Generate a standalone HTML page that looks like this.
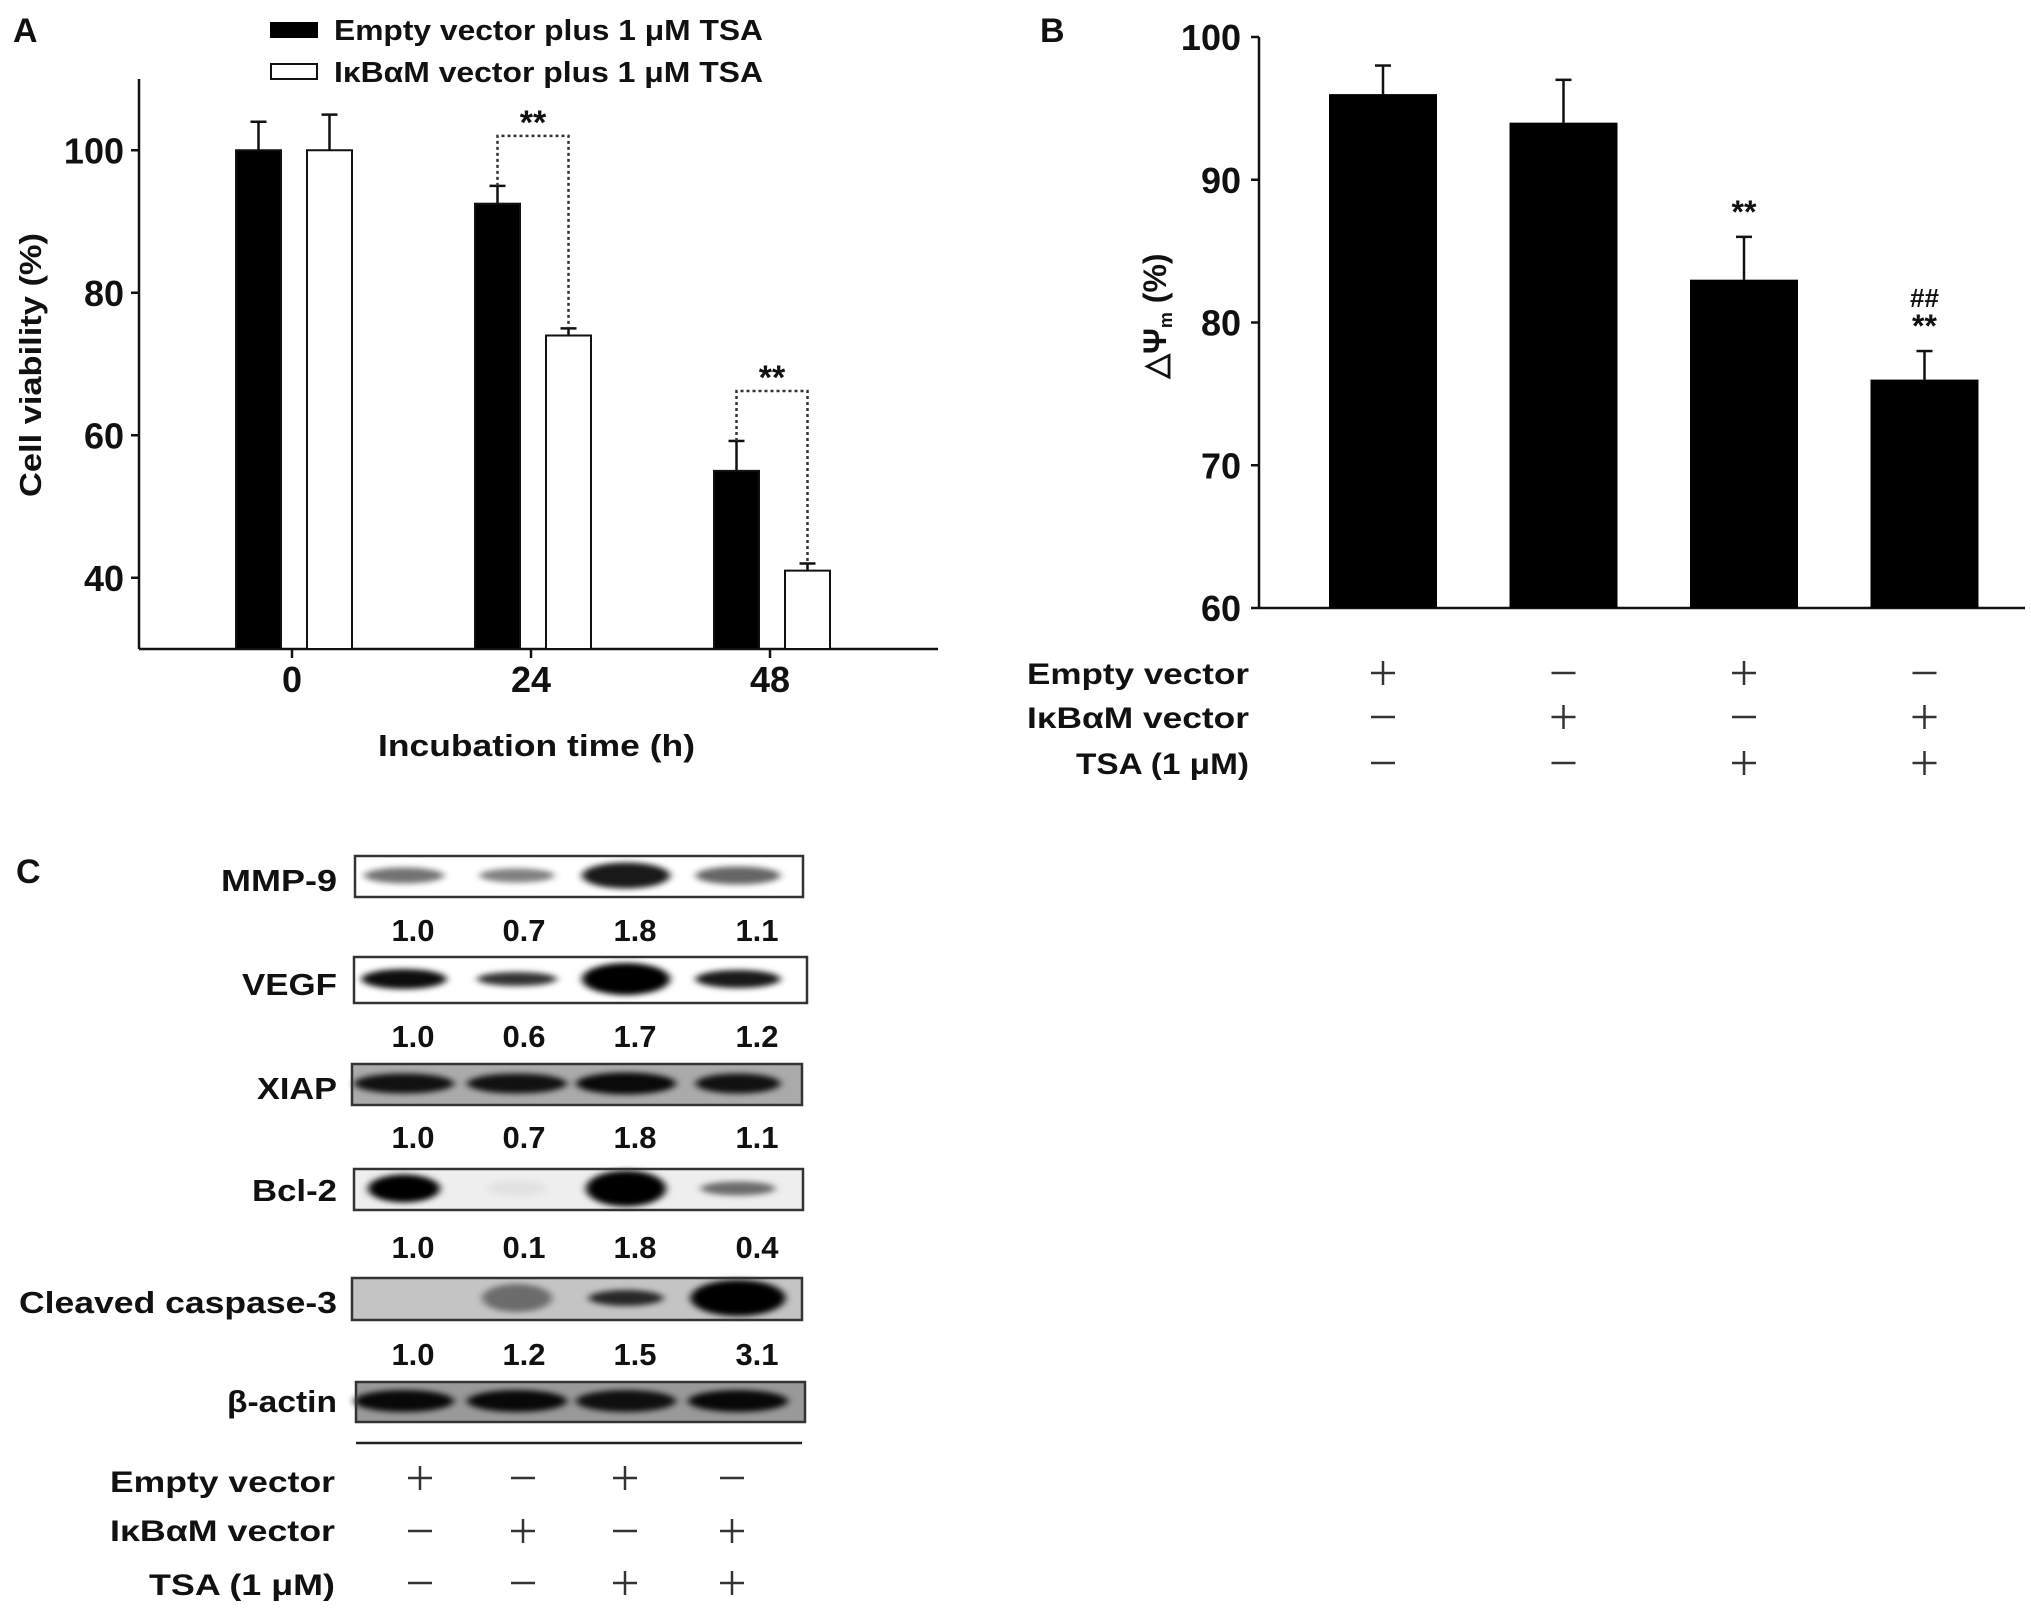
<!DOCTYPE html>
<html><head><meta charset="utf-8"><style>
html,body{margin:0;padding:0;background:#fff;}
svg{display:block;}
text{font-family:"Liberation Sans",sans-serif;font-weight:bold;fill:#111;}
</style></head><body>
<svg id="fig" width="2031" height="1613" viewBox="0 0 2031 1613" xmlns="http://www.w3.org/2000/svg">
<defs>
<filter id="blur" x="-30%" y="-100%" width="160%" height="300%"><feGaussianBlur stdDeviation="4 3"/></filter>
</defs>
<text x="13" y="42" font-size="34">A</text>
<text x="1040" y="42" font-size="34">B</text>
<text x="16" y="883" font-size="34">C</text>
<g id="chartA"></g>
<g id="chartB"></g>
<g id="blots"></g>
</svg>
<script>
const NS='http://www.w3.org/2000/svg';
function mk(tag,attrs,parent){const e=document.createElementNS(NS,tag);for(const k in attrs)e.setAttribute(k,attrs[k]);parent.appendChild(e);return e;}

// ---------- Panel A data ----------
const aCategories=['0','24','48'];
const aEmpty=[100,92.5,55];
const aEmptyErr=[4,2.5,4.2];
const aIkb=[100,74,41];
const aIkbErr=[5,1,1];
const aTicks=[40,60,80,100];

// ---------- Panel B data ----------
const bValues=[96,94,83,76];
const bErr=[2,3,3,2];
const bTicks=[60,70,80,90,100];
const bEmpty=['+','-','+','-'];
const bIkb=['-','+','-','+'];
const bTsa=['-','-','+','+'];

// ---------- Panel C data ----------
const cProteins=['MMP-9','VEGF','XIAP','Bcl-2','Cleaved caspase-3','β-actin'];
const cRatios=[['1.0','0.7','1.8','1.1'],['1.0','0.6','1.7','1.2'],['1.0','0.7','1.8','1.1'],['1.0','0.1','1.8','0.4'],['1.0','1.2','1.5','3.1'],null];
const cEmpty=['+','-','+','-'];
const cIkb=['-','+','-','+'];
const cTsa=['-','-','+','+'];

// ===== Panel A =====
(function(){
const g=document.getElementById('chartA');
const x0=139,x1=938,yTop=79,yBot=649,vmin=30,vmax=110;
const y=v=>yBot-(v-vmin)/(vmax-vmin)*(yBot-yTop);
const gx=i=>292+i*239;
const bw=45;
let e;
e=mk('line',{x1:x0,y1:yTop,x2:x0,y2:yBot,stroke:'#111','stroke-width':2.5},g);

e=mk('line',{x1:x0,y1:yBot,x2:x1,y2:yBot,stroke:'#111','stroke-width':2.5},g);

aTicks.forEach(t=>{
  e=mk('line',{x1:x0-8,y1:y(t),x2:x0,y2:y(t),stroke:'#111','stroke-width':2.5},g);
  
  e=mk('text',{x:124,y:y(t)+13,'font-size':36,'text-anchor':'end'},g);e.textContent=t;
  
});
aCategories.forEach((c,i)=>{
  e=mk('line',{x1:gx(i),y1:yBot,x2:gx(i),y2:yBot+9,stroke:'#111','stroke-width':2.5},g);
  
  e=mk('text',{x:gx(i),y:692,'font-size':36,'text-anchor':'middle'},g);e.textContent=c;
  
  const bx1=gx(i)-56,bx2=gx(i)+15;
  [[bx1,aEmpty[i],aEmptyErr[i],'#000','bar-empty'],[bx2,aIkb[i],aIkbErr[i],'#fff','bar-ikbam']].forEach(([bx,v,er,f,nm])=>{
    const cx=bx+bw/2;
    e=mk('line',{x1:cx,y1:y(v),x2:cx,y2:y(v+er),stroke:'#111','stroke-width':2.5},g);
    
    e=mk('line',{x1:cx-8,y1:y(v+er),x2:cx+8,y2:y(v+er),stroke:'#111','stroke-width':2.5},g);
    
    e=mk('rect',{x:bx,y:y(v),width:bw,height:yBot-y(v),fill:f,stroke:'#111','stroke-width':2},g);
    
  });
  if(i>0){
    const lx=bx1+bw/2,rx=bx2+bw/2;
    const top=y(Math.max(aEmpty[i]+aEmptyErr[i],aIkb[i]+aIkbErr[i]))-50;
    e=mk('polyline',{points:`${lx},${y(aEmpty[i]+aEmptyErr[i])} ${lx},${top} ${rx},${top} ${rx},${y(aIkb[i]+aIkbErr[i])}`,fill:'none',stroke:'#333','stroke-width':2.5,'stroke-dasharray':'3 3'},g);
    
    e=mk('text',{x:(lx+rx)/2,y:top-2,'font-size':34,'text-anchor':'middle',fill:'#333'},g);e.textContent='**';
    
  }
});
e=mk('text',{x:0,y:0,'font-size':31,'text-anchor':'middle',transform:'translate(41,365) rotate(-90)',textLength:264,lengthAdjust:'spacingAndGlyphs'},g);e.textContent='Cell viability (%)';

e=mk('text',{x:378,y:756,'font-size':31,textLength:317,lengthAdjust:'spacingAndGlyphs'},g);e.textContent='Incubation time (h)';

e=mk('rect',{x:270,y:22,width:48,height:16,fill:'#000'},g);

e=mk('text',{x:334,y:40,'font-size':29,textLength:429,lengthAdjust:'spacingAndGlyphs'},g);e.textContent='Empty vector plus 1 μM TSA';

e=mk('rect',{x:271,y:64,width:46,height:15,fill:'#fff',stroke:'#111','stroke-width':2},g);

e=mk('text',{x:334,y:82,'font-size':29,textLength:429,lengthAdjust:'spacingAndGlyphs'},g);e.textContent='IκBαM vector plus 1 μM TSA';

})();

function sign(g,cx,cy,s){
  let e=mk('line',{x1:cx-12,y1:cy,x2:cx+12,y2:cy,stroke:'#333','stroke-width':2.5},g);
  
  if(s==='+'){e=mk('line',{x1:cx,y1:cy-12,x2:cx,y2:cy+12,stroke:'#333','stroke-width':2.5},g);
  }
}

// ===== Panel B =====
(function(){
const g=document.getElementById('chartB');
const x0=1259,x1=2025,yTop=37,yBot=608,vmin=60,vmax=100;
const y=v=>yBot-(v-vmin)/(vmax-vmin)*(yBot-yTop);
const cx=i=>1383+i*180.5;
const bw=108;
let e;
e=mk('line',{x1:x0,y1:yTop,x2:x0,y2:yBot,stroke:'#111','stroke-width':2.5},g);

e=mk('line',{x1:x0,y1:yBot,x2:x1,y2:yBot,stroke:'#111','stroke-width':2.5},g);

bTicks.forEach(t=>{
  e=mk('line',{x1:x0-8,y1:y(t),x2:x0,y2:y(t),stroke:'#111','stroke-width':2.5},g);
  
  e=mk('text',{x:1241,y:y(t)+13,'font-size':36,'text-anchor':'end'},g);e.textContent=t;
  
});
bValues.forEach((v,i)=>{
  const c=cx(i);
  e=mk('line',{x1:c,y1:y(v),x2:c,y2:y(v+bErr[i]),stroke:'#111','stroke-width':2.5},g);
  
  e=mk('line',{x1:c-8,y1:y(v+bErr[i]),x2:c+8,y2:y(v+bErr[i]),stroke:'#111','stroke-width':2.5},g);
  
  e=mk('rect',{x:c-bw/2,y:y(v),width:bw,height:yBot-y(v),fill:'#000'},g);
  
  sign(g,c,673,bEmpty[i]);sign(g,c,717,bIkb[i]);sign(g,c,763,bTsa[i]);
});
e=mk('text',{x:cx(2),y:y(bValues[2]+bErr[2])-14,'font-size':32,'text-anchor':'middle',fill:'#333'},g);e.textContent='**';

e=mk('text',{x:cx(3),y:y(bValues[3]+bErr[3])-14,'font-size':32,'text-anchor':'middle',fill:'#333'},g);e.textContent='**';

e=mk('text',{x:cx(3),y:y(bValues[3]+bErr[3])-44,'font-size':26,'text-anchor':'middle',fill:'#333','font-weight':'normal'},g);e.textContent='##';

e=mk('text',{x:0,y:0,'font-size':32,'text-anchor':'middle',fill:'#666','font-weight':'normal','font-family':'Liberation Serif, serif',transform:'translate(1166,316) rotate(-90)'},g);
e.innerHTML='△Ψ<tspan font-size="18" dy="6">m</tspan><tspan dy="-6"> (%)</tspan>';

[['Empty vector',684,222],['IκBαM vector',728,222],['TSA (1 μM)',774,173]].forEach(([t,yy,w])=>{
  e=mk('text',{x:1249-w,y:yy,'font-size':30,textLength:w,lengthAdjust:'spacingAndGlyphs'},g);e.textContent=t;
  
});
})();

// ===== Panel C =====
(function(){
const g=document.getElementById('blots');
const lanes=[404,517,626,738];
const rows=[
 {y:856,h:41,x:355,w:448,bg:'#fff',lab:891,lw:116,bands:[[0.55,80,8],[0.5,75,7],[0.9,88,13],[0.6,85,9]],n:941},
 {y:957,h:46,x:354,w:453,bg:'#fff',lab:995,lw:95,bands:[[0.95,85,10],[0.8,80,7],[1,88,16],[0.9,85,9]],n:1047},
 {y:1064,h:41,x:352,w:450,bg:'#aaa',lab:1099,lw:80,bands:[[0.9,100,10],[0.9,100,10],[0.95,100,11],[0.9,85,10]],n:1148},
 {y:1169,h:41,x:354,w:449,bg:'#eee',lab:1201,lw:85,bands:[[1,72,14],[0.05,60,8],[1,80,18],[0.55,75,7]],n:1258},
 {y:1278,h:42,x:352,w:450,bg:'#c4c4c4',lab:1313,lw:318,bands:[[0,60,8],[0.45,70,14],[0.8,75,8],[1,95,18]],n:1365},
 {y:1382,h:40,x:356,w:449,bg:'#999',lab:1412,lw:110,bands:[[0.95,100,11],[0.95,100,11],[0.9,100,11],[0.95,100,11]],n:null}
];
let e;
cProteins.forEach((p,r)=>{
  const R=rows[r];
  e=mk('rect',{x:R.x,y:R.y,width:R.w,height:R.h,fill:R.bg},g);
  
  R.bands.forEach((b,i)=>{
    e=mk('ellipse',{cx:lanes[i],cy:R.y+R.h/2-1,rx:b[1]/2,ry:b[2],fill:'#000','fill-opacity':b[0],filter:'url(#blur)'},g);
    
  });
  e=mk('rect',{x:R.x,y:R.y,width:R.w,height:R.h,fill:'none',stroke:'#333','stroke-width':2.5},g);
  
  e=mk('text',{x:337-R.lw,y:R.lab,'font-size':31,textLength:R.lw,lengthAdjust:'spacingAndGlyphs'},g);e.textContent=p;
  
  if(cRatios[r]){cRatios[r].forEach((v,i)=>{
    e=mk('text',{x:[413,524,635,757][i],y:R.n,'font-size':31,'text-anchor':'middle'},g);e.textContent=v;
    
  });}
});
e=mk('line',{x1:356,y1:1443,x2:802,y2:1443,stroke:'#222','stroke-width':2.5},g);

const sx=[420,523,625,732];
sx.forEach((x,i)=>{sign(g,x,1478,cEmpty[i]);sign(g,x,1531,cIkb[i]);sign(g,x,1583,cTsa[i]);});
[['Empty vector',1492,225],['IκBαM vector',1541,225],['TSA (1 μM)',1595,186]].forEach(([t,yy,w])=>{
  e=mk('text',{x:335-w,y:yy,'font-size':30,textLength:w,lengthAdjust:'spacingAndGlyphs'},g);e.textContent=t;
  
});
})();
</script>
</body></html>
